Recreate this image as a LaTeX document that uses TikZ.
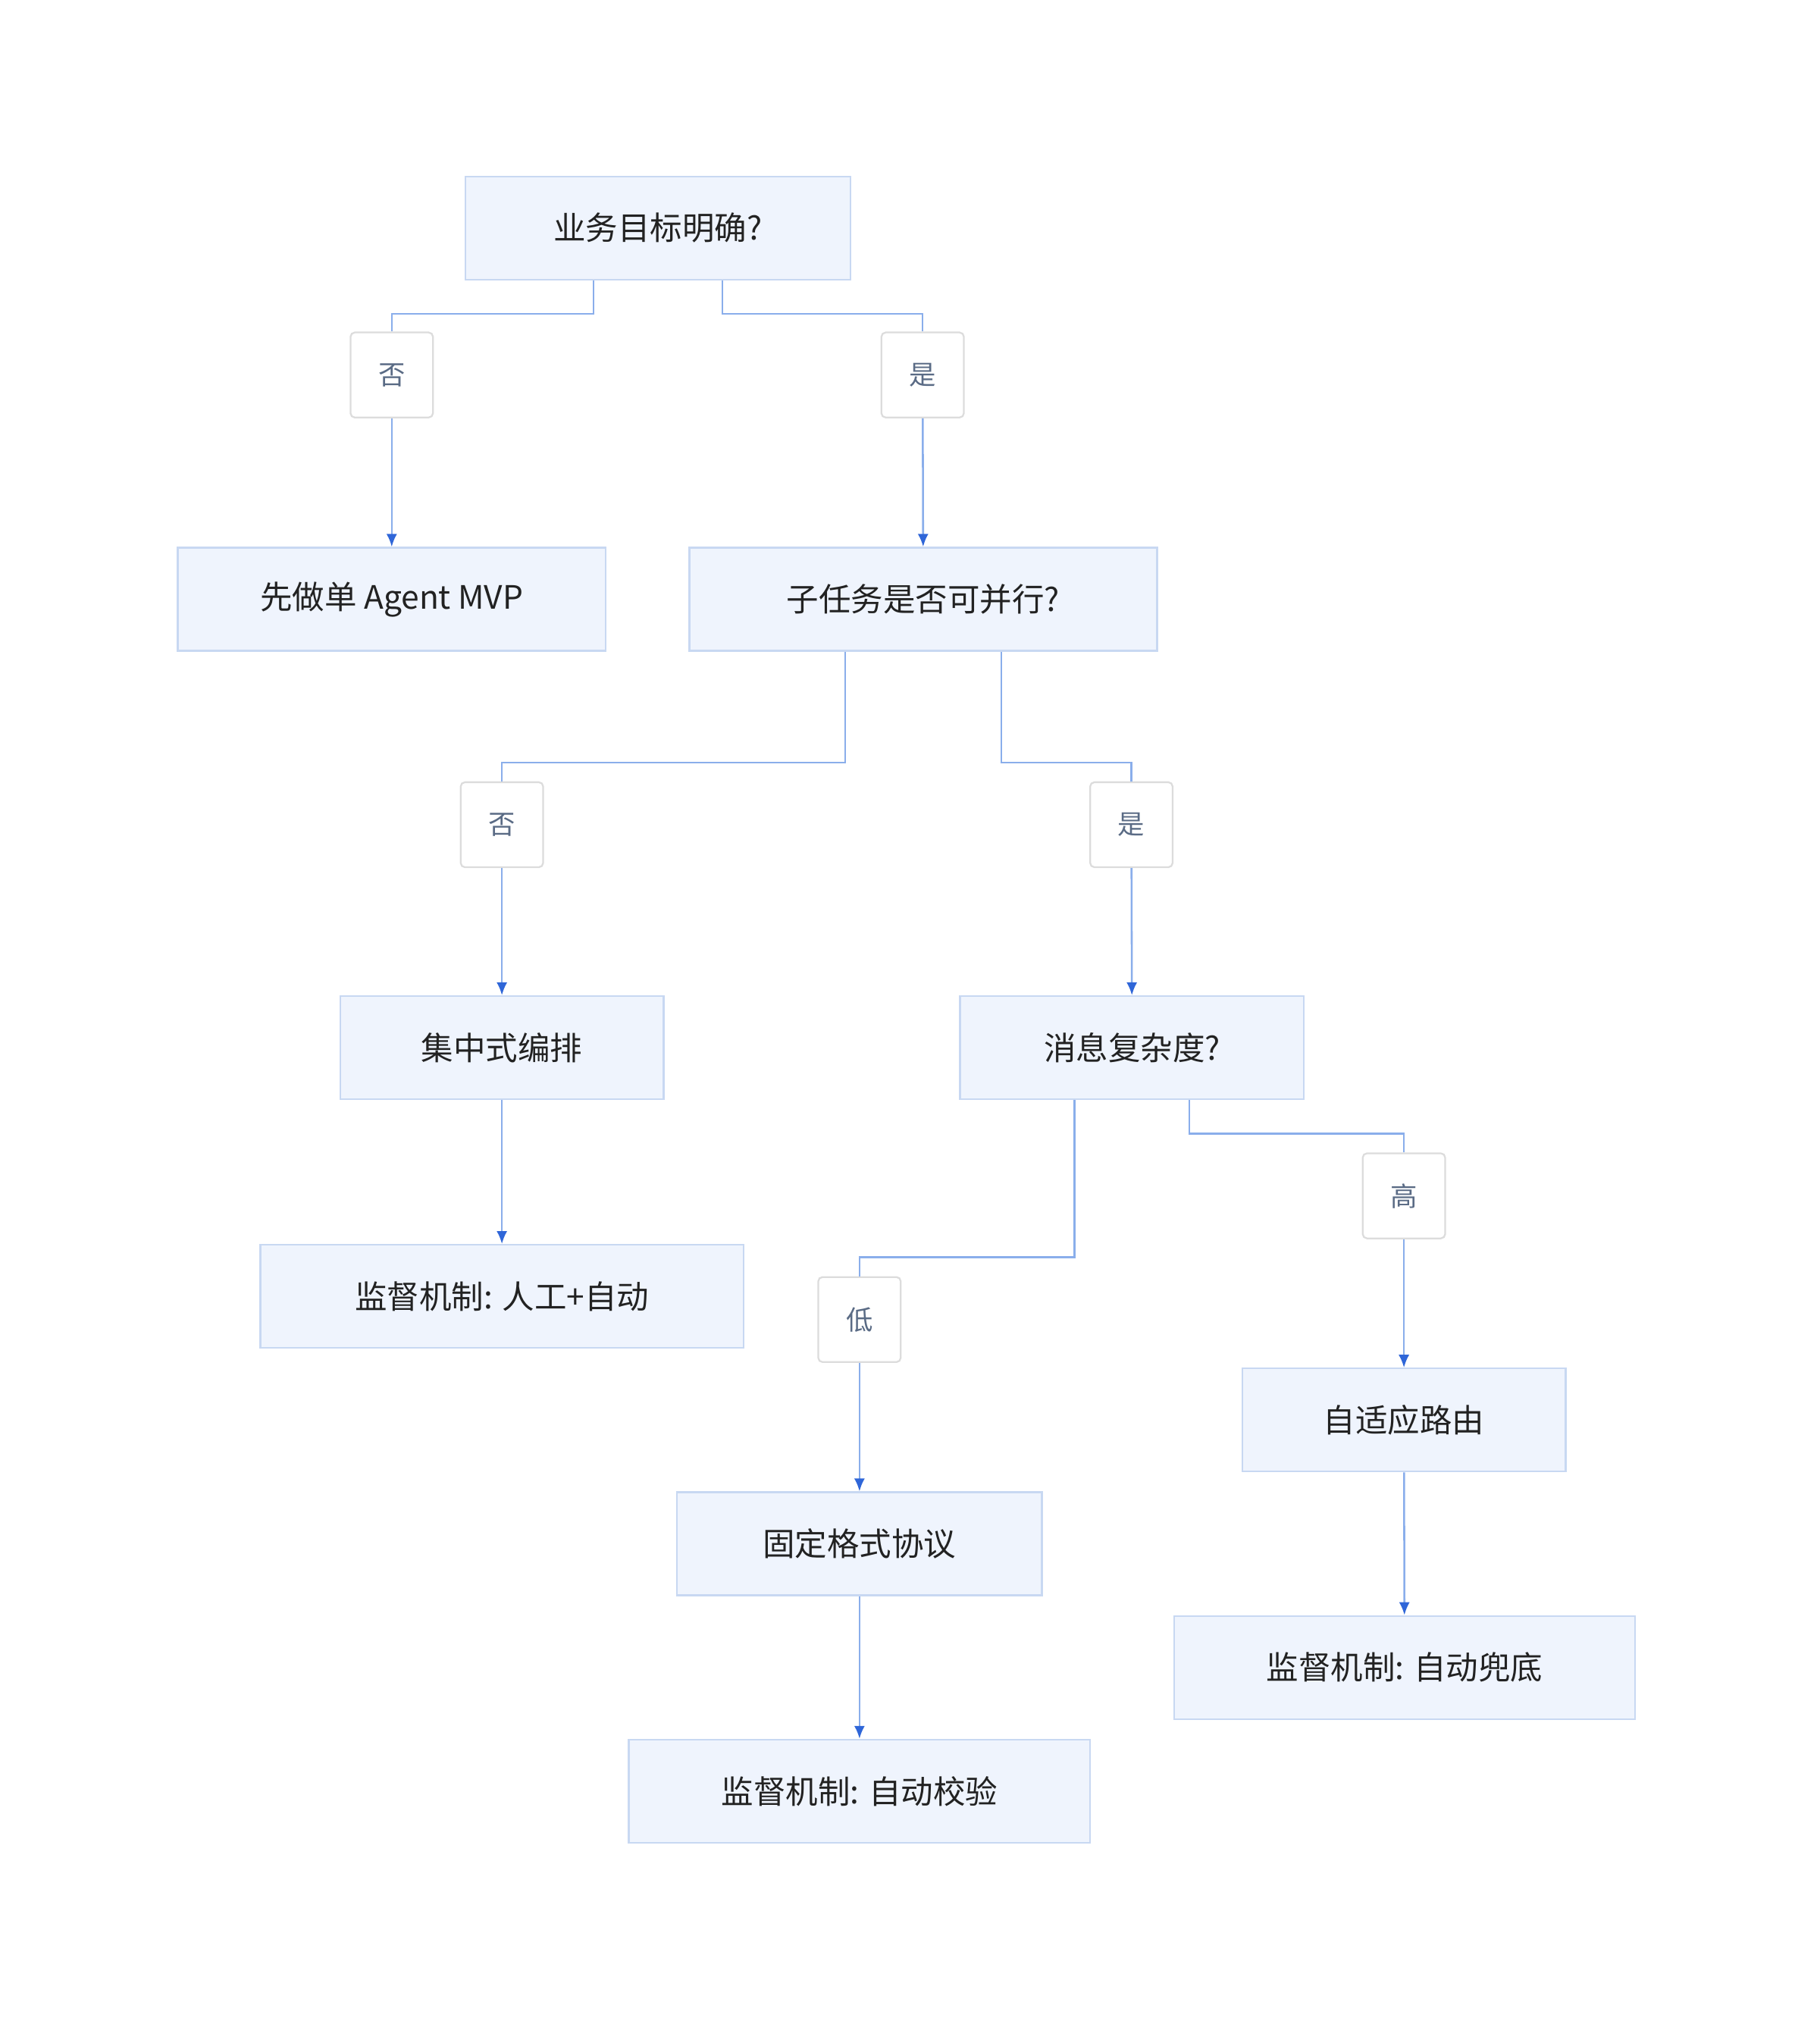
\documentclass[tikz,border=0pt]{standalone}
\usepackage{fontspec}
\setmainfont{Noto Sans CJK SC}
\usetikzlibrary{arrows.meta}
\definecolor{boxfill}{HTML}{EFF4FD}
\definecolor{boxline}{HTML}{C8D8F2}
\definecolor{edgec}{HTML}{8AAEEB}
\definecolor{arrc}{HTML}{2F66D8}
\definecolor{lblline}{HTML}{DCDCDC}
\definecolor{lbltext}{HTML}{5A6B85}
\definecolor{txt}{HTML}{222222}
\begin{document}
\begin{tikzpicture}[x=0.6pt,y=-0.6pt,
 box/.style={draw=boxline,fill=boxfill,line width=0.8pt,minimum height=48pt,inner sep=0pt,text=txt,font=\fontsize{15}{18}\selectfont},
 lbl/.style={draw=lblline,fill=white,rounded corners=2pt,line width=0.8pt,minimum width=38.4pt,minimum height=39.6pt,inner sep=0pt,text=lbltext,font=\fontsize{12.5}{15}\selectfont},
 line/.style={draw=edgec,line width=0.9pt},
 arr/.style={line,-{Latex[length=6pt,width=5pt,color=arrc,fill=arrc]}}]
\useasboundingbox (0,0) rectangle (1412,1573);
\node[box,minimum width=179.4pt] (A) at (510.5,177) {业务目标明确?};
\node[box,minimum width=199.2pt] (B) at (304,465) {先做单 Agent MVP};
\node[box,minimum width=217.8pt] (C) at (716.5,465) {子任务是否可并行?};
\node[box,minimum width=150.6pt] (D) at (389.5,813) {集中式编排};
\node[box,minimum width=160.2pt] (E) at (878.5,813) {消息复杂度?};
\node[box,minimum width=225pt] (F) at (389.5,1006) {监督机制: 人工+自动};
\node[box,minimum width=169.8pt] (G) at (667,1198) {固定格式协议};
\node[box,minimum width=150.6pt] (H) at (1089.5,1102) {自适应路由};
\node[box,minimum width=214.8pt] (I) at (1090,1294) {监督机制: 自动兜底};
\node[box,minimum width=214.8pt] (J) at (667,1390) {监督机制: 自动校验};
\node[lbl] (l1) at (304,291) {否};
\node[lbl] (l2) at (716,291) {是};
\node[lbl] (l3) at (389.5,640) {否};
\node[lbl] (l4) at (878,640) {是};
\node[lbl] (l5) at (1089.5,928) {高};
\node[lbl] (l6) at (667,1024) {低};
\draw[line] ([xshift=-30pt]A.south) -- ++(0,26) -| (l1.north);
\draw[line] ([xshift=30pt]A.south) -- ++(0,26) -| (l2.north);
\draw[line] ([xshift=-36.3pt]C.south) -- ++(0,86) -| (l3.north);
\draw[line] ([xshift=36.3pt]C.south) -- ++(0,86) -| (l4.north);
\draw[line] ([xshift=-26.7pt]E.south) -- ++(0,122) -| (l6.north);
\draw[line] ([xshift=26.7pt]E.south) -- ++(0,26) -| (l5.north);
\draw[arr] (l1) -- (B);
\draw[arr] (l2) -- (C);
\draw[arr] (l3) -- (D);
\draw[arr] (l4) -- (E);
\draw[arr] (l5) -- (H);
\draw[arr] (l6) -- (G);
\draw[arr] (D) -- (F);
\draw[arr] (G) -- (J);
\draw[arr] (H) -- (I);
\end{tikzpicture}
\end{document}
